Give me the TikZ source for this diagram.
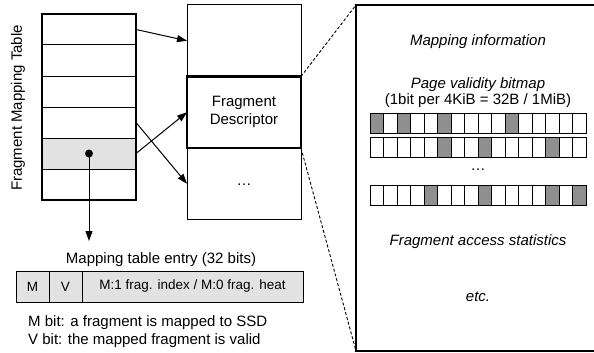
\documentclass[tikz,border=0pt]{standalone}
\usepackage{fontspec}
\setmainfont{Liberation Sans}
\usepackage{xcolor}
\usetikzlibrary{arrows.meta, positioning}
\definecolor{grisclair}{HTML}{E2E2E2}
\definecolor{grisbit}{HTML}{8F8F8F}
\tikzset{
  ligne/.style={rectangle, draw=black, line width=1pt, minimum width=94pt,
    minimum height=31pt, inner sep=0pt, outer sep=0pt},
  descr/.style={rectangle, draw=black, line width=1pt, fill=white,
    minimum width=114pt, minimum height=71.5pt, align=center, inner sep=0pt,
    outer sep=0pt, font=\fontsize{15}{18}\selectfont},
  champ/.style={rectangle, draw=black, line width=1pt, fill=grisclair,
    minimum height=31pt, inner sep=0pt, outer sep=0pt,
    font=\fontsize{13.5}{16}\selectfont},
  texte/.style={font=\fontsize{15}{18}\selectfont, align=center, inner sep=0pt},
  info/.style={texte, font=\fontsize{15}{18}\selectfont\itshape},
  fleche/.style={-{Triangle[length=10pt, width=7pt]}, line width=1pt},
  pointille/.style={dash pattern=on 3pt off 2pt, line width=0.9pt},
  bit/.style={draw=black, line width=0.7pt}
}

\begin{document}
\begin{tikzpicture}[x=1pt, y=-1pt]
    \useasboundingbox (0,0) rectangle (594,353);

    % table de correspondance
    \foreach \i/\f in {1/white, 2/white, 3/white, 4/white, 5/grisclair, 6/white} {
      \node[ligne, fill=\f] (ligne\i) at (89, {31*\i-1.5}) {};
    }
    \draw[line width=2.6pt] (ligne1.north west) rectangle (ligne6.south east);
    \node[texte, rotate=90] (titre) at (18,108) {Fragment Mapping Table};
    \node[circle, fill=black, inner sep=0pt, minimum size=8pt] (point) at (ligne5.center) {};
    \coordinate (bas) at (89,241);

    % descripteurs
    \node[descr] (desc1) at (244,40.75) {};
    \node[descr, below=0pt of desc1] (desc2) {Fragment\\Descriptor};
    \node[descr, below=0pt of desc2] (desc3) {\raisebox{-4pt}{…}};
    \draw[line width=2.2pt] (desc2.north west) rectangle (desc2.south east);

    \draw[fleche] (ligne1.east) -- (desc1.west);
    \draw[fleche] (ligne4.east) -- (desc3.west);
    \draw[fleche] (ligne5.east) -- (desc2.west);
    \draw[fleche] (point.center) -- (bas);

    % grand cadre
    \coordinate (grandNO) at (356,5);
    \coordinate (grandSO) at (356,351);
    \draw[line width=2.8pt] (600,5) -- (grandNO) -- (grandSO) -- (600,351);
    \draw[pointille] (desc2.north east) -- (grandNO);
    \draw[pointille] (desc2.south east) -- (grandSO);

    \node[info] (mapinfo) at (478,42) {Mapping information};
    \node[info] (bitmap) at (478,85) {Page validity bitmap};
    \node[texte] (taille) at (478,101) {(1bit per 4KiB = 32B / 1MiB)};
    \foreach \y/\liste in {113/{0,2,5,10}, 137/{5,8,13}, 185/{4,8,13,15}} {
      \foreach \k in {0,...,15} {
        \draw[bit, fill=white] ({370+13.5*\k}, \y) rectangle ++(13.5,20);
      }
      \foreach \k in \liste {
        \draw[bit, fill=grisbit] ({370+13.5*\k}, \y) rectangle ++(13.5,20);
      }
    }
    \node[texte] (points) at (478,170) {…};
    \node[info] (stats) at (478,242) {Fragment access statistics};
    \node[info] (etc) at (478,297) {etc.};

    % entree de la table
    \node[texte] (entree) at (161,260) {Mapping table entry (32 bits)};
    \node[champ, minimum width=33pt] (bitM) at (32.5,286.5) {M};
    \node[champ, minimum width=33pt, right=0pt of bitM] (bitV) {V};
    \node[champ, minimum width=221pt, right=0pt of bitV] (index) {M:1 frag. index / M:0 frag. heat};
    \node[texte, align=left, anchor=north west] (notes) at (28,315)
      {M bit: a fragment is mapped to SSD\\V bit: the mapped fragment is valid};
\end{tikzpicture}
\end{document}
